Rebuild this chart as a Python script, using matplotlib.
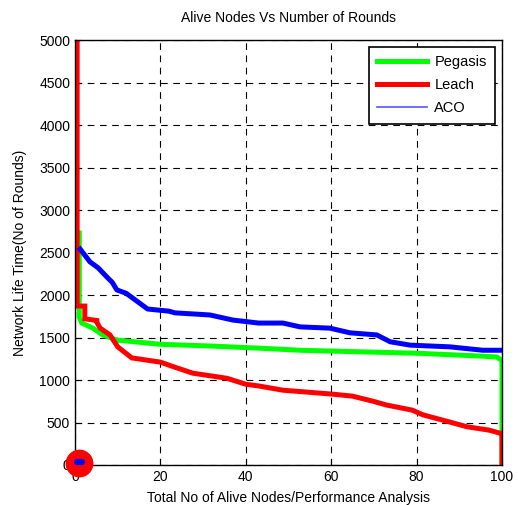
import matplotlib
matplotlib.use("Agg")
import matplotlib.pyplot as plt
from matplotlib.lines import Line2D

plt.rcParams['font.family'] = ['Liberation Sans', 'DejaVu Sans']

# Data
pegasis_x = [1, 1, 1.6, 4.2, 6.5, 9.8, 20, 31.6, 43, 52.7, 68, 80, 95.5, 98.8, 100, 100]
pegasis_y = [2730, 1740, 1670, 1610, 1530, 1470, 1420, 1400, 1375, 1350, 1330, 1315, 1280, 1270, 1230, 0]

leach_x = [0.5, 0.5, 2.3, 2.3, 5.1, 5.1, 5.9, 8.2, 10, 13.3, 20, 24, 27.6, 35.6, 40, 43,
           48.7, 60, 65, 69.8, 73, 79, 81.5, 87.8, 91.8, 97, 99.5, 100, 100]
leach_y = [5000, 1870, 1870, 1720, 1700, 1680, 1610, 1530, 1390, 1260, 1210, 1140, 1080, 1020, 950, 930,
           880, 835, 810, 750, 705, 645, 590, 505, 450, 410, 375, 370, 0]

aco_x = [1.2, 3.5, 5.4, 7.5, 8.7, 9.8, 12, 14.7, 17, 22, 23.4, 31.6, 37, 43, 48.7, 52.7,
         59.7, 64.4, 70.7, 73.8, 78.5, 87.8, 95.5, 100]
aco_y = [2540, 2390, 2320, 2210, 2150, 2060, 2020, 1920, 1835, 1810, 1790, 1765, 1705, 1670, 1670, 1625,
         1610, 1555, 1530, 1450, 1410, 1390, 1350, 1350]

origin_x = [1]
origin_y = [20]

x_ticks = [0, 20, 40, 60, 80, 100]
y_ticks = list(range(0, 5001, 500))

fig = plt.figure(figsize=(5.18, 5.05), dpi=100)
ax = fig.add_axes([75/518, 1-465/505, (502-75)/518, (465-40)/505])

ax.plot(pegasis_x, pegasis_y, color='#00ff00', lw=3.6, solid_joinstyle='miter')
ax.plot(leach_x, leach_y, color='#ff0000', lw=3.6, solid_joinstyle='miter')
ax.plot(aco_x, aco_y, color='#0000ff', lw=3.6)

ax.plot(origin_x, origin_y, marker='o', ms=19, color='#ff0000', mec='#ff0000',
        clip_on=False, zorder=10, ls='none')
ax.plot([origin_x[0]-0.6, origin_x[0]+0.6], [origin_y[0]+10, origin_y[0]+10], color='#0000ff',
        lw=4.5, solid_capstyle='round', clip_on=False, zorder=11)

ax.set_xlim(0, 100)
ax.set_ylim(0, 5000)
ax.set_xticks(x_ticks)
ax.set_yticks(y_ticks)
ax.tick_params(direction='in', length=4, labelsize=10, colors='black')
ax.grid(True, color='black', ls=(0, (6, 5)), lw=0.8)
for s in ax.spines.values():
    s.set_linewidth(1.0)

ax.set_title('Alive Nodes Vs Number of Rounds', fontsize=10, pad=13)
ax.set_xlabel('Total No of Alive Nodes/Performance Analysis', fontsize=10, labelpad=5)
ax.set_ylabel('Network Life Time(No of Rounds)', fontsize=10, labelpad=9)

handles = [Line2D([], [], color='#00ff00', lw=3.6),
           Line2D([], [], color='#ff0000', lw=3.6),
           Line2D([], [], color='#5555ff', lw=1.2)]
leg = ax.legend(handles, ['Pegasis', 'Leach', 'ACO'], loc='upper right', fontsize=10.5,
                fancybox=False, edgecolor='black', framealpha=1, handlelength=3.4,
                borderaxespad=0.45, labelspacing=0.6, borderpad=0.6, handletextpad=0.5)
leg.get_frame().set_linewidth(1.2)

fig.savefig('out.png', dpi=100)
